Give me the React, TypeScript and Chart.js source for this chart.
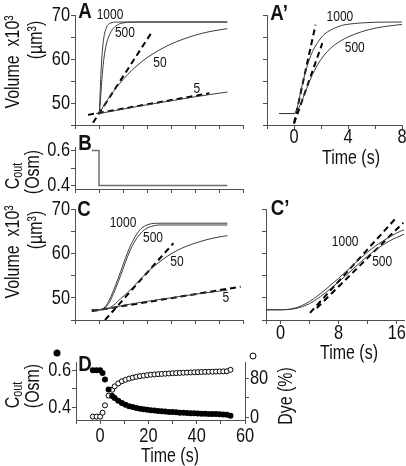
import React, { useEffect, useRef } from 'react';
import { Chart, registerables } from 'chart.js';

Chart.register(...registerables);

const W = 406;
const H = 466;
const FONT = '"Liberation Sans", Arial, Helvetica, sans-serif';
const AXIS = '#505050';
const INK = '#111111';
const CURVE = '#3c3c3c';

// ---------- Panel A / A' : volume (x10^3 µm^3) vs time (s) ----------
const aTime1000 = [-1.1, 0, 0.2, 0.4, 0.6, 0.8, 1.0, 1.25, 1.5, 2.0, 2.5, 3.0, 3.5, 4.0, 5.0, 6.0, 8.0, 12.0, 53.5];
const aVol1000 = [47.6, 47.6, 48.5, 51.2, 54.0, 56.5, 58.6, 60.8, 62.5, 64.8, 66.2, 67.0, 67.6, 67.9, 68.2, 68.35, 68.4, 68.4, 68.4];
const aTime500 = [-1.1, 0, 0.25, 0.5, 0.75, 1.0, 1.5, 2.0, 2.5, 3.0, 3.5, 4.0, 5.0, 6.0, 7.0, 8.2, 10, 14, 53.5];
const aVol500 = [47.6, 47.6, 48.4, 49.8, 51.8, 53.8, 57.3, 59.9, 61.8, 63.2, 64.2, 65.0, 66.2, 67.0, 67.5, 67.9, 68.2, 68.4, 68.4];
const aTime50 = [0, 2, 4, 6, 8, 10, 12, 15, 20, 25, 30, 35, 40, 45, 50, 53.5];
const aVol50 = [47.6, 49.4, 51.1, 52.6, 54.0, 55.3, 56.5, 58.1, 60.3, 62.0, 63.4, 64.5, 65.4, 66.1, 66.6, 66.9];
const aTime5 = [0, 10, 20, 30, 40, 46, 53.5];
const aVol5 = [47.6, 48.6, 49.6, 50.5, 51.4, 51.9, 52.5];
const aFit50T = [-2.5, 22];
const aFit50V = [45.5, 66.1];
const aFit5T = [-4.6, 46];
const aFit5V = [47.3, 52.2];
const aFit1000T = [0, 1.6];
const aFit1000V = [45.4, 67.8];
const aFit500T = [0, 2.1];
const aFit500V = [45.3, 63.6];

// ---------- Panel B : Cout step ----------
const bTime = [-3, 0, 0, 53.5];
const bCout = [0.6, 0.6, 0.4, 0.4];

// ---------- Panel C / C' ----------
const cTime = [-3, 0, 1, 2, 3, 4, 5, 6, 7, 8, 9, 10, 11, 12, 13, 14, 15, 16, 17, 18, 20, 22, 25, 53.5];
const cVol1000 = [47.3, 47.3, 47.4, 47.7, 48.3, 49.2, 50.3, 51.6, 53.0, 54.4, 55.9, 57.4, 58.9, 60.3, 61.6, 62.7, 63.7, 64.6, 65.3, 65.8, 66.4, 66.7, 66.8, 66.8];
const cVol500 = [47.3, 47.3, 47.35, 47.55, 48.0, 48.7, 49.7, 50.9, 52.2, 53.6, 55.0, 56.5, 58.0, 59.4, 60.7, 61.8, 62.8, 63.6, 64.3, 64.9, 65.7, 66.1, 66.4, 66.4];
const cTime50 = [-3, 0, 3, 6, 9, 12, 15, 18, 21, 25, 30, 35, 40, 45, 50, 53.5];
const cVol50 = [47.3, 47.3, 47.5, 48.3, 49.8, 51.2, 52.9, 54.6, 56.2, 58.0, 59.9, 61.3, 62.3, 63.1, 63.7, 64.0];
const cTime5 = [-3, 0, 10, 20, 30, 40, 50, 53.5];
const cVol5 = [47.3, 47.3, 48.3, 49.2, 50.0, 50.8, 51.5, 51.7];
const cFit50T = [2.5, 31];
const cFit50V = [45.0, 62.3];
const cFit5T = [-3, 59];
const cFit5V = [47.0, 52.5];
const cFit1000T = [4.06, 15.8];
const cFit1000V = [46.6, 67.8];
const cFit500T = [5.0, 16.9];
const cFit500V = [47.7, 66.9];

// ---------- Panel D : Cout (Osm) and dye (%) ----------
const dTime = [-3, -1.5, 0, 1, 2, 3.5, 5, 6, 7.5, 9, 10.5, 12, 13.5, 15, 16.5, 18, 19.5, 21, 22.5, 24, 25.5, 27, 28.5, 30, 31.5, 33, 34.5, 36, 37.5, 39, 40.5, 42, 43.5, 45, 46.5, 48, 49.5, 51, 52.5, 54];
const dCout = [0.6, 0.6, 0.6, 0.585, 0.55, 0.495, 0.46, 0.45, 0.435, 0.423, 0.413, 0.405, 0.4, 0.395, 0.391, 0.388, 0.385, 0.383, 0.381, 0.379, 0.377, 0.376, 0.374, 0.373, 0.372, 0.37, 0.369, 0.368, 0.367, 0.366, 0.365, 0.364, 0.364, 0.363, 0.362, 0.362, 0.361, 0.36, 0.359, 0.353];
const dDye = [1, 1, 1, 9, 24, 44, 56, 63, 69, 73.5, 76.5, 79, 81, 82.5, 84, 85, 86, 87, 87.5, 88, 88.5, 89, 89.5, 90, 90.3, 90.6, 91, 91.3, 91.6, 92, 92.2, 92.5, 92.7, 93, 93.2, 93.4, 93.6, 93.8, 94, 97];

// ---------- ticks ----------
const timeTicks = [-10, 0, 10, 20, 30, 40, 50, 60];
const dTimeLabels = [0, 20, 40, 60];
const volTicks = [45, 50, 55, 60, 65, 70];
const volLabels = [50, 60, 70];
const zoomATicks = [-2, 0, 2, 4, 6, 8];
const zoomALabels = [0, 4, 8];
const zoomCTicks = [-2, 0, 4, 8, 12, 16];
const zoomCLabels = [0, 8, 16];
const coutTicks = [0.4, 0.5, 0.6];
const coutLabels = [0.4, 0.6];
const dyeTicks = [0, 40, 80];
const dyeLabels = [0, 80];

const pts = (xs: number[], ys: number[]) => xs.map((x, i) => ({ x, y: ys[i] }));

const curve = (xs: number[], ys: number[], color = CURVE, width = 1, smooth = true) => ({
  data: pts(xs, ys),
  showLine: true,
  borderColor: color,
  borderWidth: width,
  pointRadius: 0,
  fill: false,
  tension: 0,
  cubicInterpolationMode: smooth ? 'monotone' : 'default',
});

const fitLine = (xs: number[], ys: number[]) => ({
  data: pts(xs, ys),
  showLine: true,
  borderColor: '#000',
  borderWidth: 2,
  borderDash: [6, 4],
  pointRadius: 0,
  fill: false,
});

const TICK_FONT = 21;
const CONDENSE = 0.78;
const TICK_LEN = 4;

function axis(pos: string, min: number, max: number, ticks: number[], size: number) {
  const horiz = pos === 'bottom';
  return {
    type: 'linear',
    position: pos,
    min,
    max,
    afterBuildTicks: (s: any) => {
      s.ticks = ticks.map((v) => ({ value: v }));
    },
    afterFit: (s: any) => {
      if (horiz) s.height = size;
      else s.width = size;
      s.paddingLeft = 0;
      s.paddingRight = 0;
      s.paddingTop = 0;
      s.paddingBottom = 0;
    },
    grid: { display: true, drawOnChartArea: false, drawTicks: true, tickLength: TICK_LEN, color: AXIS, lineWidth: 1 },
    border: { display: true, color: AXIS, width: 1 },
    ticks: { display: false },
  };
}

function condensedText(ctx: any, text: string, x: number, y: number, align: string, size: number) {
  ctx.save();
  ctx.translate(x, y);
  ctx.scale(CONDENSE, 1);
  ctx.font = `${size}px ${FONT}`;
  ctx.textAlign = align;
  ctx.textBaseline = 'middle';
  ctx.fillText(text, 0, 0);
  ctx.restore();
}

// Draws tick labels (condensed, from the scales' own tick values), curve labels and legend markers
const annotate = {
  id: 'annotate',
  afterDraw(chart: any, _a: any, opts: any) {
    const ctx = chart.ctx;
    const xs = chart.scales.x;
    const ys = chart.scales.y;
    const area = chart.chartArea;
    ctx.save();
    ctx.fillStyle = INK;
    const tl = opts.tickLabels || {};
    Object.keys(tl).forEach((id) => {
      const sc = chart.scales[id];
      if (!sc) return;
      sc.ticks.forEach((t: any) => {
        if (!tl[id].includes(t.value)) return;
        const p = sc.getPixelForValue(t.value);
        const txt = String(t.value);
        if (sc.position === 'bottom') condensedText(ctx, txt, p, sc.top + (opts.xLabelDy || 14), 'center', TICK_FONT);
        else if (sc.position === 'left') condensedText(ctx, txt, sc.right - TICK_LEN - 1, p, 'right', TICK_FONT);
        else condensedText(ctx, txt, sc.left + TICK_LEN + 1, p, 'left', TICK_FONT);
      });
    });
    (opts.labels || []).forEach((l: any) => {
      ctx.save();
      ctx.translate(xs.getPixelForValue(l.x), ys.getPixelForValue(l.y));
      ctx.scale(0.8, 1);
      ctx.font = `15px ${FONT}`;
      ctx.textAlign = 'center';
      ctx.textBaseline = 'middle';
      ctx.fillText(l.text, 0, 0);
      ctx.restore();
    });
    (opts.markers || []).forEach((m: any) => {
      const px = m.side === 'left' ? area.left + m.dx : area.right + m.dx;
      const py = area.top + m.dy;
      ctx.beginPath();
      ctx.arc(px, py, m.r, 0, Math.PI * 2);
      if (m.filled) {
        ctx.fillStyle = '#000';
        ctx.fill();
      } else {
        ctx.fillStyle = '#fff';
        ctx.fill();
        ctx.strokeStyle = '#000';
        ctx.lineWidth = 1;
        ctx.stroke();
      }
    });
    ctx.restore();
  },
};

const YW = 40;
const XH = 30;
const Y2W = 30;

function makeConfig(p: any) {
  const scales: any = {
    x: axis('bottom', p.x[0], p.x[1], p.x[2], XH),
    y: axis('left', p.y[0], p.y[1], p.y[2], YW),
  };
  const tickLabels: any = { x: p.x[3], y: p.y[3] };
  if (p.y2) {
    scales.y2 = axis('right', p.y2[0], p.y2[1], p.y2[2], Y2W);
    tickLabels.y2 = p.y2[3];
  }
  return {
    type: 'scatter',
    data: { datasets: p.datasets },
    options: {
      animation: false,
      responsive: false,
      devicePixelRatio: 1,
      events: [],
      layout: {
        padding: {
          left: p.area.l - YW,
          top: p.area.t,
          right: W - p.area.r - (p.y2 ? Y2W : 0),
          bottom: H - p.area.b - XH,
        },
      },
      plugins: {
        legend: { display: false },
        tooltip: { enabled: false },
        annotate: { labels: p.labels || [], markers: p.markers || [], tickLabels, xLabelDy: p.xLabelDy },
      },
      scales,
    },
    plugins: [annotate],
  };
}

const panels: (() => any)[] = [
  // A
  () =>
    makeConfig({
      area: { l: 75, t: 15, r: 243, b: 125 },
      x: [-10, 60, timeTicks, []],
      y: [45, 70, volTicks, volLabels],
      datasets: [
        curve(aTime1000, aVol1000),
        curve(aTime500, aVol500),
        curve(aTime50, aVol50),
        curve(aTime5, aVol5),
        fitLine(aFit50T, aFit50V),
        fitLine(aFit5T, aFit5V),
      ],
      labels: [
        { x: 4.6, y: 70, text: '1000' },
        { x: 10.8, y: 65.9, text: '500' },
        { x: 25.4, y: 59.1, text: '50' },
        { x: 40.8, y: 53.2, text: '5' },
      ],
    }),
  // A'
  () =>
    makeConfig({
      area: { l: 267, t: 15, r: 402, b: 125 },
      x: [-2, 8, zoomATicks, zoomALabels],
      y: [45, 70, volTicks, []],
      xLabelDy: 12,
      datasets: [
        curve(aTime1000, aVol1000),
        curve(aTime500, aVol500),
        fitLine(aFit1000T, aFit1000V),
        fitLine(aFit500T, aFit500V),
      ],
      labels: [
        { x: 3.4, y: 69.5, text: '1000' },
        { x: 4.5, y: 62.5, text: '500' },
      ],
    }),
  // B
  () =>
    makeConfig({
      area: { l: 75, t: 147, r: 243, b: 189 },
      x: [-10, 60, timeTicks, []],
      y: [0.38, 0.62, coutTicks, coutLabels],
      datasets: [curve(bTime, bCout, '#6e6e6e', 1.5, false)],
    }),
  // C
  () =>
    makeConfig({
      area: { l: 75, t: 209, r: 243, b: 320 },
      x: [-10, 60, timeTicks, []],
      y: [45, 70, volTicks, volLabels],
      datasets: [
        curve(cTime, cVol1000),
        curve(cTime, cVol500),
        curve(cTime50, cVol50),
        curve(cTime5, cVol5),
        fitLine(cFit50T, cFit50V),
        fitLine(cFit5T, cFit5V),
      ],
      labels: [
        { x: 10, y: 66.9, text: '1000' },
        { x: 22.5, y: 63.5, text: '500' },
        { x: 32.5, y: 58.1, text: '50' },
        { x: 52.9, y: 50, text: '5' },
      ],
    }),
  // C'
  () =>
    makeConfig({
      area: { l: 266, t: 209, r: 404, b: 320 },
      x: [-2, 17, zoomCTicks, zoomCLabels],
      y: [45, 70, volTicks, []],
      xLabelDy: 13,
      datasets: [
        curve(cTime, cVol1000),
        curve(cTime, cVol500),
        fitLine(cFit1000T, cFit1000V),
        fitLine(cFit500T, cFit500V),
      ],
      labels: [
        { x: 8.9, y: 62.6, text: '1000' },
        { x: 14, y: 58.1, text: '500' },
      ],
    }),
  // D
  () =>
    makeConfig({
      area: { l: 76, t: 362, r: 245, b: 420 },
      x: [-10, 60, timeTicks, dTimeLabels],
      y: [0.33, 0.645, coutTicks, coutLabels],
      y2: [-6, 113, dyeTicks, dyeLabels],
      xLabelDy: 16,
      datasets: [
        {
          data: pts(dTime, dCout),
          showLine: false,
          pointRadius: 3,
          pointBackgroundColor: '#000',
          pointBorderColor: '#000',
          pointBorderWidth: 0,
          clip: false,
        },
        {
          data: pts(dTime, dDye),
          yAxisID: 'y2',
          showLine: false,
          pointRadius: 2.5,
          pointBackgroundColor: '#fff',
          pointBorderColor: '#000',
          pointBorderWidth: 1,
          clip: false,
        },
      ],
      markers: [
        { side: 'left', dx: -19, dy: -9, r: 3.5, filled: true },
        { side: 'right', dx: 8, dy: -6, r: 3, filled: false },
      ],
    }),
];

function ChartLayer({ make }: { make: () => any }) {
  const ref = useRef<HTMLCanvasElement>(null);
  useEffect(() => {
    const chart = new Chart(ref.current as HTMLCanvasElement, make());
    return () => chart.destroy();
  }, [make]);
  return (
    <canvas
      ref={ref}
      width={W}
      height={H}
      style={{ position: 'absolute', left: 0, top: 0, width: W, height: H }}
    />
  );
}

function Txt({ x, y, rot, size = 21, bold, sx = 0.76, sy = 1, children }: any) {
  return (
    <div
      style={{
        position: 'absolute',
        left: x,
        top: y,
        transform: `translate(-50%, -50%)${rot ? ' rotate(-90deg)' : ''} scale(${sx}, ${sy})`,
        fontFamily: FONT,
        fontSize: size,
        fontWeight: bold ? 'bold' : 'normal',
        lineHeight: 1,
        whiteSpace: 'pre',
        color: INK,
      }}
    >
      {children}
    </div>
  );
}

const sub = { fontSize: '0.68em', verticalAlign: '-0.25em', lineHeight: 0 } as const;

export default function App() {
  return (
    <div style={{ position: 'fixed', left: 0, top: 0, width: W, height: H, background: '#fff', overflow: 'hidden' }}>
      {panels.map((m, i) => (
        <ChartLayer key={i} make={m} />
      ))}
      {/* panel letters */}
      <Txt x={85} y={11} size={22} bold sx={0.85}>A</Txt>
      <Txt x={279} y={13} size={22} bold sx={0.85}>A’</Txt>
      <Txt x={85} y={143} size={22} bold sx={0.85}>B</Txt>
      <Txt x={84} y={209} size={22} bold sx={0.85}>C</Txt>
      <Txt x={280} y={208} size={22} bold sx={0.85}>C’</Txt>
      <Txt x={85} y={364} size={22} bold sx={0.85}>D</Txt>
      {/* axis titles */}
      <Txt x={11} y={62} rot>{'Volume  x10³'}</Txt>
      <Txt x={34} y={40} rot>(µm³)</Txt>
      <Txt x={11} y={252} rot>{'Volume  x10³'}</Txt>
      <Txt x={34} y={230} rot>(µm³)</Txt>
      <Txt x={11} y={176} rot>
        C<span style={sub}>out</span>
      </Txt>
      <Txt x={31} y={172} rot>(Osm)</Txt>
      <Txt x={11} y={395} rot>
        C<span style={sub}>out</span>
      </Txt>
      <Txt x={31} y={386} rot>(Osm)</Txt>
      <Txt x={284} y={396} rot>Dye (%)</Txt>
      <Txt x={351} y={156}>Time (s)</Txt>
      <Txt x={349} y={351}>Time (s)</Txt>
      <Txt x={170} y={454}>Time (s)</Txt>
    </div>
  );
}
